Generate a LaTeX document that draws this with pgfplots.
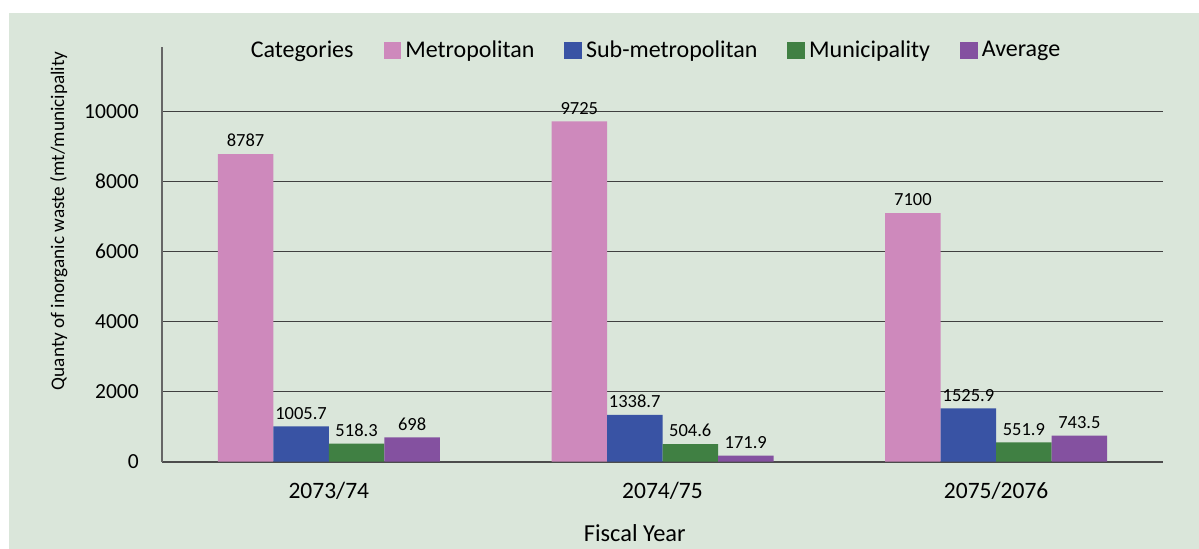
\documentclass[border=0pt]{standalone}
\usepackage{fontspec}
\setmainfont{Carlito}
\usepackage{pgfplots}
\pgfplotsset{compat=1.18}

\definecolor{bgpanel}{HTML}{DAE6DA}
\definecolor{metro}{HTML}{CE89BC}
\definecolor{submetro}{HTML}{3953A4}
\definecolor{munic}{HTML}{408043}
\definecolor{avgc}{HTML}{8451A0}

\begin{document}
\begin{tikzpicture}
\fill[white] (0pt,0pt) rectangle (599.5pt,274.5pt);
\fill[bgpanel] (4.5pt,0pt) rectangle (599.5pt,268pt);
\begin{axis}[
  at={(81pt,43.65pt)}, anchor=south west,
  width=500.5pt, height=207.4pt, scale only axis,
  xmin=-0.5, xmax=2.5, ymin=0, ymax=11850,
  enlargelimits=false,
  axis lines*=left,
  axis line style={draw=black!60, line width=1pt},
  x axis line style={draw=black!70},
  ymajorgrids, grid style={draw=black!75, line width=0.7pt},
  major tick length=0pt,
  scaled y ticks=false,
  xtick={0,1,2}, xticklabels={2073/74,2074/75,2075/2076},
  ytick={0,2000,4000,6000,8000,10000},
  /pgf/number format/assume math mode=true,
  /pgf/number format/1000 sep={},
  xticklabel style={font=\fontsize{11.75}{13}\selectfont, yshift=-6.9pt},
  yticklabel style={font=\fontsize{10.75}{12}\selectfont, xshift=-8.1pt},
  xlabel={Fiscal Year},
  xlabel style={font=\fontsize{12.2}{14}\selectfont, at={(axis description cs:0.4723,0)}, anchor=base, yshift=-39.7pt},
  ylabel={Quanty of inorganic waste (mt/municipality},
  ylabel style={font=\fontsize{9.6}{11}\selectfont, at={(axis description cs:-0.1032,0.5807)}, anchor=center},
  ybar=0pt, bar width=27.75pt,
  nodes near coords,
  every node near coord/.append style={font=\fontsize{9.25}{10}\selectfont, text=black},
  legend columns=5,
  legend image code/.code={\fill[#1] (0pt,-4.4pt) rectangle (8.85pt,4.4pt);},
  legend style={at={(0.493,0.9914)}, anchor=center, draw=none, fill=none,
    font=\fontsize{12}{14}\selectfont,
    /tikz/every even column/.append style={column sep=13pt}},
]
\addlegendimage{empty legend}
\addlegendentry{Categories\hspace{-6pt}}
\addplot[fill=metro, draw=none] coordinates {(0,8787) (1,9725) (2,7100)};
\addlegendentry{Metropolitan}
\addplot[fill=submetro, draw=none] coordinates {(0,1005.7) (1,1338.7) (2,1525.9)};
\addlegendentry{Sub-metropolitan}
\addplot[fill=munic, draw=none] coordinates {(0,518.3) (1,504.6) (2,551.9)};
\addlegendentry{Municipality}
\addplot[fill=avgc, draw=none] coordinates {(0,698) (1,171.9) (2,743.5)};
\addlegendentry{Average}
\end{axis}
\pgfresetboundingbox
\useasboundingbox (0pt,0pt) rectangle (599.5pt,274.5pt);
\end{tikzpicture}
\end{document}
